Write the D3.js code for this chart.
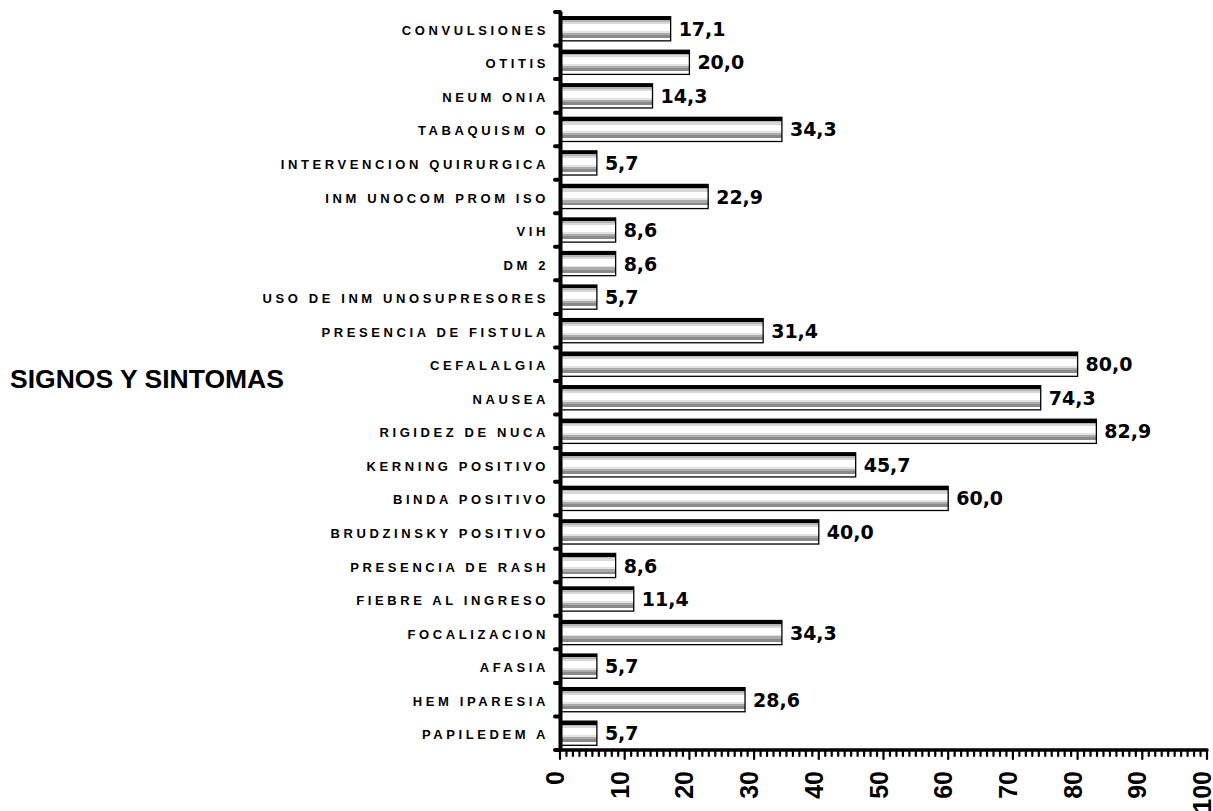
<!DOCTYPE html>
<html><head><meta charset="utf-8">
<script src="https://cdn.jsdelivr.net/npm/d3@7"></script>
<style>
html,body{margin:0;padding:0;background:#fff;}
svg{display:block;}
</style></head>
<body>
<svg id="chart" width="1213" height="811"></svg>
<script>
const categories = ["CONVULSIONES","OTITIS","NEUM ONIA","TABAQUISM O","INTERVENCION QUIRURGICA","INM UNOCOM PROM ISO","VIH","DM 2","USO DE INM UNOSUPRESORES","PRESENCIA DE FISTULA","CEFALALGIA","NAUSEA","RIGIDEZ DE NUCA","KERNING POSITIVO","BINDA POSITIVO","BRUDZINSKY POSITIVO","PRESENCIA DE RASH","FIEBRE AL INGRESO","FOCALIZACION","AFASIA","HEM IPARESIA","PAPILEDEM A"];
const values = [17.1,20.0,14.3,34.3,5.7,22.9,8.6,8.6,5.7,31.4,80.0,74.3,82.9,45.7,60.0,40.0,8.6,11.4,34.3,5.7,28.6,5.7];
const xTicks = [0,10,20,30,40,50,60,70,80,90,100];
const axisTitle = "SIGNOS Y SINTOMAS";

const svg = d3.select("#chart");
const x = d3.scaleLinear().domain([0,100]).range([560,1207]);
const y = d3.scaleBand().domain(categories).range([12,750]).paddingInner(0.28).paddingOuter(0.14);

const defs = svg.append("defs");
const grad = defs.append("linearGradient").attr("id","barGrad").attr("x1",0).attr("y1",0).attr("x2",0).attr("y2",1);
const stops = [[0,"#000"],[0.14,"#000"],[0.14,"#b4b4b4"],[0.21,"#b4b4b4"],[0.21,"#d8d8d8"],[0.3,"#d8d8d8"],[0.3,"#fff"],[0.58,"#fff"],[0.58,"#e2e2e2"],[0.66,"#e2e2e2"],[0.66,"#ababab"],[0.75,"#ababab"],[0.75,"#8a8a8a"],[0.87,"#8a8a8a"],[0.87,"#fff"],[1,"#fff"]];
stops.forEach(s=>grad.append("stop").attr("offset",s[0]).attr("stop-color",s[1]));

const fmt = v => d3.format(".1f")(v).replace(".",",");

// bars
const g = svg.append("g");
categories.forEach((c,i)=>{
  const v = values[i];
  g.append("rect")
    .attr("x", x(0)).attr("y", y(c))
    .attr("width", x(v)-x(0)).attr("height", y.bandwidth())
    .attr("fill","url(#barGrad)").attr("stroke","#000").attr("stroke-width",1.3);
  g.append("text")
    .attr("x", x(v)+8).attr("y", y(c)+y.bandwidth()/2+7)
    .attr("font-family","DejaVu Sans").attr("font-weight","bold").attr("font-size","19px")
    .attr("fill","#000").text(fmt(v));
  g.append("text")
    .attr("x", 549).attr("y", y(c)+y.bandwidth()/2+6)
    .attr("text-anchor","end")
    .attr("font-family","Liberation Sans, Arial").attr("font-weight","bold").attr("font-size","13px")
    .attr("letter-spacing","3.6px")
    .attr("fill","#000").text(c);
});

// left axis
const y0 = 12, y1 = 750;
svg.append("line").attr("x1",560.5).attr("x2",560.5).attr("y1",y0).attr("y2",y1)
  .attr("stroke","#000").attr("stroke-width",4);
d3.range(categories.length+1).forEach(i=>{
  const yy = y0 + i*(y1-y0)/categories.length;
  svg.append("line").attr("x1",555).attr("x2",560).attr("y1",yy).attr("y2",yy)
    .attr("stroke","#000").attr("stroke-width",4).attr("stroke-linecap","round");
});

// bottom axis
svg.append("line").attr("x1",557).attr("x2",x(100)).attr("y1",750).attr("y2",750)
  .attr("stroke","#000").attr("stroke-width",3.5).attr("stroke-linecap","round");
d3.range(0,101).forEach(t=>{
  const major = t%10===0;
  svg.append("line").attr("x1",x(t)).attr("x2",x(t)).attr("y1",750).attr("y2",major?759:756)
    .attr("stroke","#000").attr("stroke-width",2.2).attr("stroke-linecap","round");
});
xTicks.forEach(t=>{
  svg.append("text")
    .attr("transform",`translate(${x(t)+4},771) rotate(-90)`)
    .attr("text-anchor","end")
    .attr("font-family","Liberation Sans, Arial").attr("font-weight","bold").attr("font-size","25px")
    .attr("fill","#000").text(t);
});

// axis title
svg.append("text").attr("x",10).attr("y",388)
  .attr("font-family","Liberation Sans, Arial").attr("font-weight","bold").attr("font-size","26.5px")
  .attr("fill","#000").text(axisTitle);
</script>
</body></html>
